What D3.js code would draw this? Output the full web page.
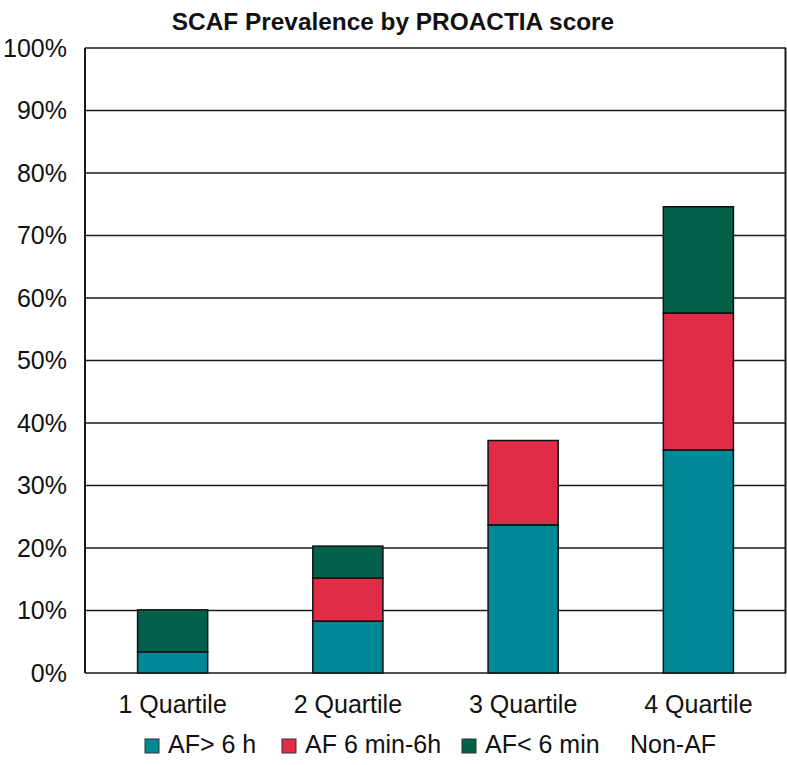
<!DOCTYPE html>
<html><head><meta charset="utf-8">
<script src="https://cdn.jsdelivr.net/npm/d3@7/dist/d3.min.js"></script>
<style>body{margin:0;background:#fff}svg{display:block}text{font-family:"Liberation Sans",Arial,Helvetica,sans-serif;fill:#111}</style>
</head><body>
<script>
const categories = ["1 Quartile", "2 Quartile", "3 Quartile", "4 Quartile"];
const seriesNames = ["AF> 6 h", "AF 6 min-6h", "AF< 6 min"];
const afOver6h = [3.4, 8.3, 23.7, 35.7];
const af6minTo6h = [0, 6.9, 13.5, 21.9];
const afUnder6min = [6.7, 5.1, 0, 17.0];
const seriesColors = ["#008896", "#e12c48", "#03614a"];
const legendNames = ["AF> 6 h", "AF 6 min-6h", "AF< 6 min", "Non-AF"];
const yTicks = [0, 10, 20, 30, 40, 50, 60, 70, 80, 90, 100];
const title = "SCAF Prevalence by PROACTIA score";

const W = 787, H = 765;
const m = {left: 85, right: 1, top: 48, bottom: 92};
const svg = d3.select("body").append("svg").attr("width", W).attr("height", H);

const x = d3.scaleBand().domain(categories).range([m.left, W - m.right]).paddingInner(0.6).paddingOuter(0.3);
const y = d3.scaleLinear().domain([0, 100]).range([H - m.bottom, m.top]);

const rows = categories.map((c, i) => ({cat: c, "AF> 6 h": afOver6h[i], "AF 6 min-6h": af6minTo6h[i], "AF< 6 min": afUnder6min[i]}));
const stacked = d3.stack().keys(seriesNames)(rows);

// gridlines
svg.append("g").selectAll("line").data(yTicks).join("line")
  .attr("x1", m.left).attr("x2", W - m.right)
  .attr("y1", d => y(d)).attr("y2", d => y(d))
  .attr("stroke", "#1a1a1a").attr("stroke-width", 1.6);

// frame
svg.append("line").attr("x1", m.left).attr("x2", m.left).attr("y1", y(0)).attr("y2", y(100)).attr("stroke", "#1a1a1a").attr("stroke-width", 2);
svg.append("line").attr("x1", W - m.right - 0.5).attr("x2", W - m.right - 0.5).attr("y1", y(0)).attr("y2", y(100)).attr("stroke", "#1a1a1a").attr("stroke-width", 2);

// bars
svg.append("g").selectAll("g").data(stacked).join("g")
  .attr("fill", (d, i) => seriesColors[i])
  .selectAll("rect").data(d => d.filter(s => s[1] - s[0] > 0)).join("rect")
  .attr("x", d => x(d.data.cat)).attr("width", x.bandwidth())
  .attr("y", d => y(d[1])).attr("height", d => y(d[0]) - y(d[1]))
  .attr("stroke", "#111").attr("stroke-width", 1.5);

// y axis
const yAxis = d3.axisLeft(y).tickValues(yTicks).tickFormat(d => d + "%").tickSize(0).tickPadding(18);
const gy = svg.append("g").attr("transform", `translate(${m.left},0)`).call(yAxis);
gy.select(".domain").remove();
gy.selectAll("text").attr("font-size", 25).style("font-family", '"Liberation Sans", Arial, sans-serif').attr("fill", "#111");

// x axis
const xAxis = d3.axisBottom(x).tickSize(0).tickPadding(22);
const gx = svg.append("g").attr("transform", `translate(0,${y(0)})`).call(xAxis);
gx.select(".domain").remove();
gx.selectAll("text").attr("font-size", 25).style("font-family", '"Liberation Sans", Arial, sans-serif').attr("fill", "#111");

// title
svg.append("text").attr("x", 393).attr("y", 30).attr("text-anchor", "middle")
  .attr("font-size", 24.4).attr("font-weight", "bold").text(title);

// legend
const legendX = [145, 282, 462, 630];
const lg = svg.append("g");
legendNames.forEach((n, i) => {
  const c = seriesColors[i];
  if (c) {
    lg.append("rect").attr("x", legendX[i]).attr("y", 739).attr("width", 14).attr("height", 14)
      .attr("fill", c).attr("stroke", "#333").attr("stroke-width", 1);
    lg.append("text").attr("x", legendX[i] + 23).attr("y", 753).attr("font-size", 25).text(n);
  } else {
    lg.append("text").attr("x", legendX[i]).attr("y", 753).attr("font-size", 25).text(n);
  }
});
</script>
</body></html>
